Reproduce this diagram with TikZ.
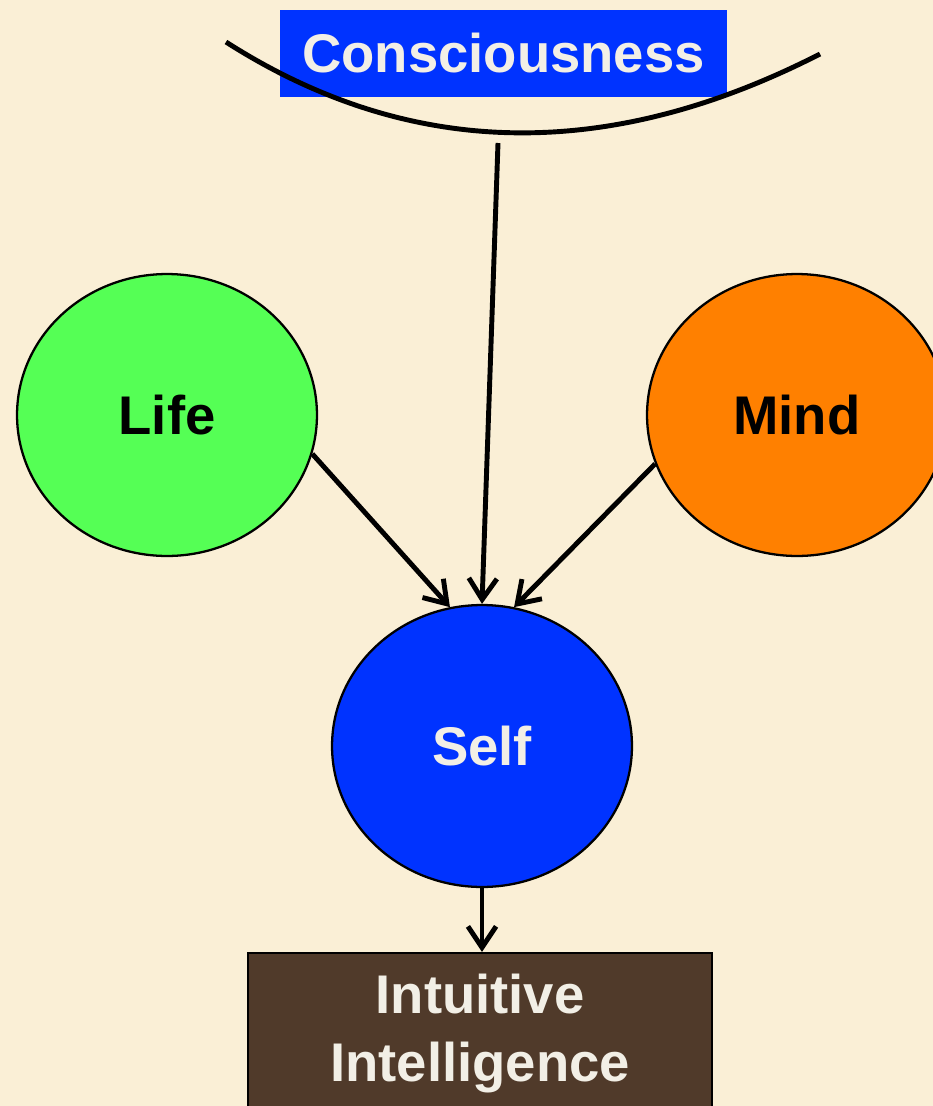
\documentclass[tikz,border=0pt]{standalone}
\usepackage{fontspec}
\setmainfont{Liberation Sans}
\usepackage{tikz}
\usetikzlibrary{shapes.geometric, arrows.meta}
\definecolor{parchment}{HTML}{FAEFD6}
\definecolor{lifegreen}{HTML}{55FF55}
\definecolor{mindorange}{HTML}{FF8000}
\definecolor{selfblue}{HTML}{0033FF}
\definecolor{marble}{HTML}{503A2A}
\definecolor{chalk}{HTML}{F2EFE6}
\tikzstyle{bubble} = [ellipse, minimum width=6cm, minimum height=5.64cm, draw=black, line width=1.3pt, font=\fontsize{31}{38}\selectfont\bfseries]
\tikzstyle{banner} = [rectangle, minimum width=8.94cm, minimum height=1.74cm, fill=selfblue, text=chalk, font=\fontsize{31}{38}\selectfont\bfseries]
\tikzstyle{plate} = [rectangle, minimum width=9.28cm, minimum height=3.24cm, draw=black, line width=1.3pt, fill=marble, text=chalk, align=center, font=\fontsize{31}{38.7}\selectfont\bfseries]
\tikzstyle{arrow} = [-{Straight Barb[length=12pt,width=16pt]}, line width=2.8pt]

\begin{document}
\begin{tikzpicture}[x=0.02cm, y=-0.02cm]
\useasboundingbox (0,0) rectangle (933,1106);
\fill[parchment] (0,0) rectangle (933,1106);
%定义各个形状
\node[banner](cons) at (503.5,53.5){\raisebox{-2pt}{Consciousness}};
\draw[line width=2.8pt] (226,42) .. controls (409,159) and (607,163) .. (820,54);
\coordinate (consfoot) at (498,143);
\node[bubble, fill=lifegreen](life) at (167,415){Life};
\node[bubble, fill=mindorange](mind) at (797,415){Mind};
\node[bubble, fill=selfblue, text=chalk](self) at (482,746){Self};
\node[plate](intel) at (480,1034){Intuitive\\Intelligence};
%连接各个形状
\draw [arrow] (consfoot) -- (self.north);
\draw [arrow] (life.-15) -- (self.103);
\draw [arrow] (mind.199) -- (self.77);
\draw [arrow] (self.south) -- (self.south |- intel.north);
\end{tikzpicture}
\end{document}
